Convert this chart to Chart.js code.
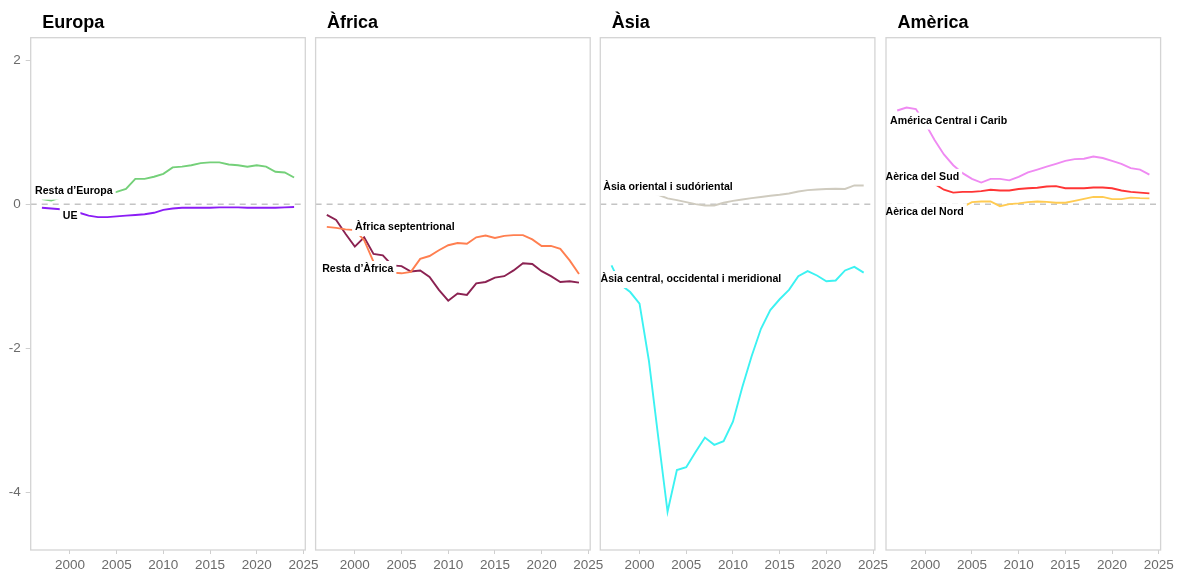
<!DOCTYPE html>
<html>
<head>
<meta charset="utf-8">
<script src="https://cdn.jsdelivr.net/npm/chart.js@4.4.1/dist/chart.umd.min.js"></script>
<style>
  body { margin: 0; background: #fff; }
  #wrap { position: relative; width: 1186px; height: 572px; }
  #wrap canvas { position: absolute; left: 0; top: 0; }
</style>
</head>
<body>
<div id="wrap"></div>
<script>
// data
const years = [1997, 1998, 1999, 2000, 2001, 2002, 2003, 2004, 2005, 2006, 2007, 2008, 2009, 2010,
  2011, 2012, 2013, 2014, 2015, 2016, 2017, 2018, 2019, 2020, 2021, 2022, 2023, 2024]

const restaEuropa = [0.07, 0.05, 0.09, 0.12, 0.10, 0.10, 0.10, 0.14, 0.17, 0.21, 0.35, 0.35, 0.38, 0.42,
  0.51, 0.52, 0.54, 0.57, 0.58, 0.58, 0.55, 0.54, 0.52, 0.54, 0.52, 0.45, 0.44, 0.37]
const ue = [-0.05, -0.06, -0.07, -0.09, -0.12, -0.16, -0.18, -0.18, -0.17, -0.16, -0.15, -0.14, -0.12, -0.08,
  -0.06, -0.05, -0.05, -0.05, -0.05, -0.045, -0.045, -0.045, -0.05, -0.05, -0.05, -0.05, -0.045, -0.04]

const africaSeptentrional = [-0.315, -0.33, -0.35, -0.36, -0.50, -0.80, -0.88, -0.95, -0.96, -0.94, -0.76, -0.72, -0.64, -0.57,
  -0.54, -0.55, -0.46, -0.435, -0.47, -0.44, -0.43, -0.43, -0.49, -0.58, -0.58, -0.62, -0.78, -0.97]
const restaAfrica = [-0.15, -0.22, -0.41, -0.59, -0.46, -0.69, -0.71, -0.85, -0.86, -0.935, -0.92, -1.01, -1.19, -1.34,
  -1.24, -1.26, -1.10, -1.08, -1.02, -1.0, -0.92, -0.82, -0.83, -0.93, -1.0, -1.08, -1.07, -1.09]

const asiaOriental = [0.22, 0.21, 0.20, 0.18, 0.16, 0.13, 0.08, 0.056, 0.028, 0.0, -0.019, -0.019, 0.019, 0.046,
  0.065, 0.083, 0.10, 0.116, 0.13, 0.148, 0.176, 0.194, 0.204, 0.21, 0.213, 0.21, 0.259, 0.259]
const asiaCentral = [-0.85, -1.12, -1.22, -1.38, -2.17, -3.23, -4.27, -3.69, -3.65, -3.44, -3.24, -3.34, -3.29, -3.02,
  -2.54, -2.11, -1.73, -1.47, -1.32, -1.19, -1.0, -0.93, -0.99, -1.07, -1.06, -0.92, -0.87, -0.95]

const americaCentral = [1.30, 1.34, 1.32, 1.12, 0.89, 0.69, 0.54, 0.43, 0.35, 0.30, 0.35, 0.35, 0.33, 0.38,
  0.44, 0.48, 0.52, 0.56, 0.60, 0.625, 0.63, 0.66, 0.64, 0.60, 0.56, 0.50, 0.48, 0.41]
const americaSud = [0.36, 0.35, 0.34, 0.32, 0.28, 0.20, 0.16, 0.17, 0.17, 0.18, 0.20, 0.19, 0.19, 0.21,
  0.22, 0.227, 0.245, 0.25, 0.22, 0.22, 0.22, 0.23, 0.23, 0.22, 0.19, 0.17, 0.16, 0.15]
const americaNord = [-0.08, -0.09, -0.10, -0.10, -0.09, -0.08, -0.06, -0.04, 0.028, 0.037, 0.037, -0.028, 0.0, 0.01,
  0.028, 0.037, 0.032, 0.02, 0.02, 0.046, 0.074, 0.10, 0.10, 0.07, 0.07, 0.09, 0.083, 0.08]

const xTicks = [2000, 2005, 2010, 2015, 2020, 2025]
const yTicks = [-4, -2, 0, 2]

const fontFamily = '"Liberation Sans", Arial, Helvetica, sans-serif'

//one entry per facet
const panels = [
  { title: 'Europa', left: 30.7,
    series: [[restaEuropa, '#74D079'], [ue, '#8B1DF5']],
    labels: [['Resta d’Europa', 1996.26, 0.18], ['UE', 1999.23, -0.163]] },
  { title: 'Àfrica', left: 315.6,
    series: [[africaSeptentrional, '#FF7F50'], [restaAfrica, '#8B2252']],
    labels: [['Àfrica septentrional', 2000.03, -0.324], ['Resta d’Àfrica', 1996.5, -0.907]] },
  { title: 'Àsia', left: 600.3,
    series: [[asiaOriental, '#CFCBBF'], [asiaCentral, '#3CF2F2']],
    labels: [['Àsia oriental i sudóriental', 1996.12, 0.232], ['Àsia central, occidental i meridional', 1995.82, -1.046]] },
  { title: 'Amèrica', left: 886.0,
    series: [[americaCentral, '#EF8AF2'], [americaSud, '#FF3535'], [americaNord, '#FFCB52']],
    labels: [['América Central i Carib', 1996.24, 1.153], ['Aèrica del Sud', 1995.75, 0.371], ['Aèrica del Nord', 1995.75, -0.107]] },
]
const panelWidth = 274.6
const xMin = 1995.8, xMax = 2025.2

//titles, white boxes behind the labels, panel border
const facetPlugin = {
  id: 'facet',
  afterDatasetsDraw(chart, args, opts) {
    const {ctx, chartArea: a, scales: {x, y}} = chart
    ctx.save()
    ctx.font = 'bold 10.6px ' + fontFamily
    ctx.textBaseline = 'middle'
    ctx.textAlign = 'left'
    const items = opts.labels.map(([text, lx, ly]) => ({
      text,
      px: x.getPixelForValue(lx),
      py: y.getPixelForValue(ly),
      w: ctx.measureText(text).width,
    }))
    ctx.fillStyle = '#fff'
    items.forEach(it => ctx.fillRect(it.px - 3, it.py - 8.5, it.w + 6, 17))
    ctx.strokeStyle = '#d4d4d4'
    ctx.lineWidth = 1.3
    ctx.strokeRect(a.left, a.top, a.right - a.left, a.bottom - a.top)
    ctx.fillStyle = '#000'
    items.forEach(it => ctx.fillText(it.text, it.px, it.py))
    ctx.font = 'bold 18px ' + fontFamily
    ctx.textBaseline = 'alphabetic'
    ctx.fillText(opts.title, a.left + 11.5, 28.3)
    ctx.restore()
  }
}

const wrap = document.getElementById('wrap')
panels.forEach((p, i) => {
  const canvas = document.createElement('canvas')
  canvas.width = 1186
  canvas.height = 572
  wrap.appendChild(canvas)
  const yAxisWidth = i === 0 ? 28 : 0
  const datasets = p.series.map(([values, color]) => ({
    data: years.map((yr, k) => ({x: yr, y: values[k]})),
    borderColor: color,
    borderWidth: 1.9,
    pointRadius: 0,
    tension: 0,
    fill: false,
    order: 0,
  }))
  //dashed zero line
  datasets.push({
    data: [{x: xMin, y: 0}, {x: xMax, y: 0}],
    borderColor: '#c4c4c4',
    borderWidth: 1.5,
    borderDash: [6, 5],
    pointRadius: 0,
    order: 10,
  })
  new Chart(canvas, {
    type: 'line',
    data: { datasets },
    plugins: [facetPlugin],
    options: {
      responsive: false,
      animation: false,
      devicePixelRatio: 1,
      layout: {
        padding: { left: p.left - yAxisWidth, right: 1186 - p.left - panelWidth, top: 37.7, bottom: 0 }
      },
      plugins: {
        legend: { display: false },
        tooltip: { enabled: false },
        facet: { title: p.title, labels: p.labels },
      },
      scales: {
        x: {
          type: 'linear',
          min: xMin,
          max: xMax,
          afterBuildTicks: s => { s.ticks = xTicks.map(v => ({value: v})) },
          afterFit: s => { s.height = 22 },
          grid: { drawOnChartArea: false, drawTicks: true, tickLength: 4, color: '#cfcfcf' },
          border: { display: false },
          ticks: {
            autoSkip: false,
            maxRotation: 0,
            padding: 3,
            color: '#6b6b6b',
            font: { family: fontFamily, size: 13.5 },
            callback: v => String(v),
          },
        },
        y: {
          type: 'linear',
          min: -4.8,
          max: 2.31,
          display: i === 0,
          afterBuildTicks: s => { s.ticks = yTicks.map(v => ({value: v})) },
          afterFit: s => { s.width = yAxisWidth },
          grid: { drawOnChartArea: false, drawTicks: true, tickLength: 5, color: '#cfcfcf' },
          border: { display: false },
          ticks: {
            padding: 5,
            color: '#6b6b6b',
            font: { family: fontFamily, size: 13.5 },
            callback: v => String(v),
          },
        },
      },
    },
  })
})
</script>
</body>
</html>
